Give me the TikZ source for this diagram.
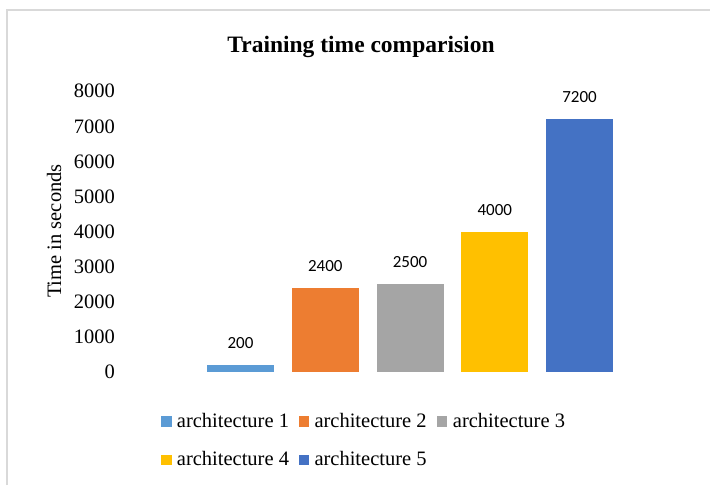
\documentclass[tikz,border=0pt]{standalone}
\usepackage{fontspec}
\setmainfont{Liberation Serif}
\newfontfamily\numfont{Carlito}
\definecolor{cA}{HTML}{5B9BD5}
\definecolor{cB}{HTML}{ED7D31}
\definecolor{cC}{HTML}{A5A5A5}
\definecolor{cD}{HTML}{FFC000}
\definecolor{cE}{HTML}{4472C4}
\definecolor{frameg}{HTML}{D9D9D9}
\begin{document}
\begin{tikzpicture}[x=1pt,y=-1pt,
  ticklbl/.style={anchor=east,inner sep=0pt,font=\fontsize{20.5}{22}\selectfont},
  vallbl/.style={inner sep=0pt,font=\numfont\fontsize{17}{19}\selectfont},
  legtxt/.style={anchor=base west,inner sep=0pt,font=\fontsize{20.5}{22}\selectfont},
  legsq/.style={minimum size=10.5pt,inner sep=0pt,anchor=south west}]
\useasboundingbox (0,0) rectangle (710,485);
\fill[white] (0,0) rectangle (710,485);
\draw[line width=2pt,frameg] (6.5,485) -- (6.5,9.5) -- (710,9.5);
% title
\node[anchor=base,inner sep=0pt,font=\bfseries\fontsize{23.5}{26}\selectfont] (title) at (361,52.3) {Training time comparision};
% y axis title
\node[rotate=90,inner sep=0pt,font=\fontsize{20.5}{22}\selectfont] (ytitle) at (54,231) {Time in seconds};
% ticks
\foreach \v in {0,1000,...,8000}
  \node[ticklbl] (t\v) at (115,{372-\v*0.0351}) {\v};
% bars
\foreach \i/\v/\c in {1/200/cA,2/2400/cB,3/2500/cC,4/4000/cD,5/7200/cE}{
  \pgfmathsetmacro{\xl}{207+(\i-1)*84.75}
  \pgfmathsetmacro{\yt}{372-\v*0.0351}
  \fill[\c] (\xl,372) rectangle ({\xl+67},\yt);
  \node[vallbl] (v\i) at ({\xl+33.5},{\yt-22}) {\v};
}
% legend
\node[legsq,fill=cA] (s1) at (161,426.7) {};
\node[legtxt] (l1) at (176.7,427) {architecture 1};
\node[legsq,fill=cB] (s2) at (298.3,426.7) {};
\node[legtxt] (l2) at (314.3,427) {architecture 2};
\node[legsq,fill=cC] (s3) at (436.7,426.7) {};
\node[legtxt] (l3) at (452.7,427) {architecture 3};
\node[legsq,fill=cD] (s4) at (161,465.3) {};
\node[legtxt] (l4) at (176.7,465.7) {architecture 4};
\node[legsq,fill=cE] (s5) at (298.3,465.3) {};
\node[legtxt] (l5) at (314.3,465.7) {architecture 5};
\end{tikzpicture}
\end{document}
